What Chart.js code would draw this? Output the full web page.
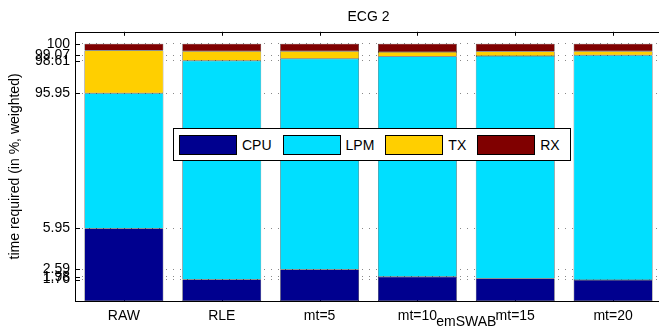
<!DOCTYPE html>
<html>
<head>
<meta charset="utf-8">
<script src="https://cdn.jsdelivr.net/npm/chart.js@4.4.1/dist/chart.umd.min.js"></script>
<style>
  html, body { margin: 0; padding: 0; background: #fff; overflow: hidden; }
  #wrap { position: relative; width: 700px; height: 327px; }
  #legend {
    position: absolute; left: 173px; top: 128px; width: 391px; height: 31px;
    border: 1px solid #000; background: #fff;
    display: flex; align-items: center; padding-left: 5px; box-sizing: content-box;
    font: 14px "Liberation Sans", Arial, sans-serif; color: #000;
  }
  #legend .item { display: flex; align-items: center; margin-right: 11px; }
  #legend .sw { width: 56px; height: 18px; border: 1px solid #000; margin-right: 5px; }
</style>
</head>
<body>
<div id="wrap">
  <canvas id="chart" width="700" height="327"></canvas>
  <div id="legend"></div>
</div>
<script>
(function () {
  'use strict';

  const categories = ['RAW', 'RLE', 'mt=5', 'mt=10', 'mt=15', 'mt=20'];
  const cpu = [5.95, 1.76, 2.59, 1.98, 1.84, 1.73];
  const lpm = [90.00, 96.85, 96.18, 96.98, 97.17, 97.34];
  const tx  = [3.50, 0.79, 0.63, 0.38, 0.36, 0.33];
  const rx  = [0.55, 0.60, 0.60, 0.66, 0.63, 0.60];

  const seriesNames  = ['CPU', 'LPM', 'TX', 'RX'];
  const seriesColors = ['#00008f', '#00dfff', '#ffcf00', '#800000'];

  const yTicks      = [1.76, 1.98, 2.59, 5.95, 95.95, 98.61, 99.07, 100];
  const yTickLabels = ['1.76', '1.98', '2.59', '5.95', '95.95', '98.61', '99.07', '100'];

  // broken y axis: 0..5.95 and 95.95..100 at full scale, middle squeezed
  const LOW = 5.95, HIGH = 95.95, SQUEEZE = 0.1233;
  const MID = LOW + (HIGH - LOW) * SQUEEZE;
  function fwd(v) {
    if (v <= LOW) return v;
    if (v <= HIGH) return LOW + (v - LOW) * SQUEEZE;
    return MID + (v - HIGH);
  }
  function inv(u) {
    if (u <= LOW) return u;
    if (u <= MID) return LOW + (u - LOW) / SQUEEZE;
    return HIGH + (u - MID);
  }

  class BrokenScale extends Chart.LinearScale {
    buildTicks() { return yTicks.map(v => ({ value: v })); }
    getPixelForValue(v) {
      const a = fwd(this.min), b = fwd(this.max);
      return this.getPixelForDecimal((fwd(v) - a) / (b - a));
    }
    getValueForPixel(p) {
      const a = fwd(this.min), b = fwd(this.max);
      return inv(a + this.getDecimalForPixel(p) * (b - a));
    }
  }
  BrokenScale.id = 'broken';
  BrokenScale.defaults = Chart.LinearScale.defaults;
  Chart.register(BrokenScale);

  const FONT = '"Liberation Sans", Arial, sans-serif';

  const frame = {
    id: 'frame',
    beforeDatasetsDraw(chart) {
      const { ctx, chartArea: a, scales } = chart;
      ctx.save();
      ctx.strokeStyle = '#000';
      ctx.lineWidth = 1;
      ctx.beginPath();
      categories.forEach((c, i) => {
        const x = Math.round(scales.x.getPixelForTick(i)) + 0.5;
        ctx.moveTo(x, a.top); ctx.lineTo(x, a.top + 4);
        ctx.moveTo(x, a.bottom); ctx.lineTo(x, a.bottom - 4);
      });
      yTicks.forEach(v => {
        const y = Math.round(scales.y.getPixelForValue(v)) + 0.5;
        ctx.moveTo(a.left, y); ctx.lineTo(a.left + 5, y);
      });
      ctx.stroke();
      ctx.restore();
    },
    afterDatasetsDraw(chart) {
      const { ctx, chartArea: a, scales } = chart;
      ctx.save();
      ctx.strokeStyle = '#000';
      ctx.lineWidth = 1;
      ctx.strokeRect(Math.round(a.left) + 0.5, Math.round(a.top) + 0.5,
        Math.round(a.right - a.left), Math.round(a.bottom - a.top));
      // x axis label, placed as in the original figure
      ctx.fillStyle = '#000';
      ctx.font = '14px ' + FONT;
      ctx.textAlign = 'center';
      ctx.textBaseline = 'middle';
      ctx.fillText('emSWAB', scales.x.getPixelForValue(3.5), 322);
      ctx.restore();
    }
  };

  const values = [cpu, lpm, tx, rx];
  const chart = new Chart(document.getElementById('chart'), {
    type: 'bar',
    data: {
      labels: categories,
      datasets: seriesNames.map((name, i) => ({
        label: name,
        data: values[i],
        backgroundColor: seriesColors[i],
        borderColor: '#000',
        borderWidth: 0.5,
        borderSkipped: false,
        barPercentage: 0.806,
        categoryPercentage: 1,
      })),
    },
    options: {
      responsive: false,
      animation: false,
      layout: { padding: { left: 0, right: 38, top: 0, bottom: 0 } },
      plugins: {
        legend: { display: false },
        tooltip: { enabled: false },
        title: {
          display: true,
          text: 'ECG 2',
          fullSize: false,
          color: '#000',
          font: { family: FONT, size: 14, weight: 'normal' },
          padding: { top: 9, bottom: 6 },
        },
      },
      scales: {
        x: {
          type: 'category',
          stacked: true,
          offset: true,
          grid: { display: false, drawTicks: false },
          border: { display: false },
          ticks: { color: '#000', font: { family: FONT, size: 14 }, padding: 7, maxRotation: 0 },
          afterFit: s => { s.height = 26; },
        },
        y: {
          type: 'broken',
          stacked: true,
          min: 0,
          max: 100.99,
          grid: { color: '#888', drawTicks: false },
          border: { display: false, dash: [1, 6] },
          ticks: {
            autoSkip: false,
            color: '#000',
            font: { family: FONT, size: 14 },
            padding: 5,
            callback: (v, i) => yTickLabels[i],
          },
          title: {
            display: true,
            text: 'time required (in %, weighted)',
            color: '#000',
            font: { family: FONT, size: 14 },
            padding: { top: 7, bottom: 0 },
          },
          afterFit: s => { s.width = 75; },
        },
      },
    },
    plugins: [frame],
  });

  // legend box built from the chart's own datasets
  const legend = document.getElementById('legend');
  chart.data.datasets.forEach(ds => {
    const item = document.createElement('div');
    item.className = 'item';
    const sw = document.createElement('div');
    sw.className = 'sw';
    sw.style.background = ds.backgroundColor;
    const label = document.createElement('span');
    label.textContent = ds.label;
    item.appendChild(sw);
    item.appendChild(label);
    legend.appendChild(item);
  });
})();
</script>
</body>
</html>
